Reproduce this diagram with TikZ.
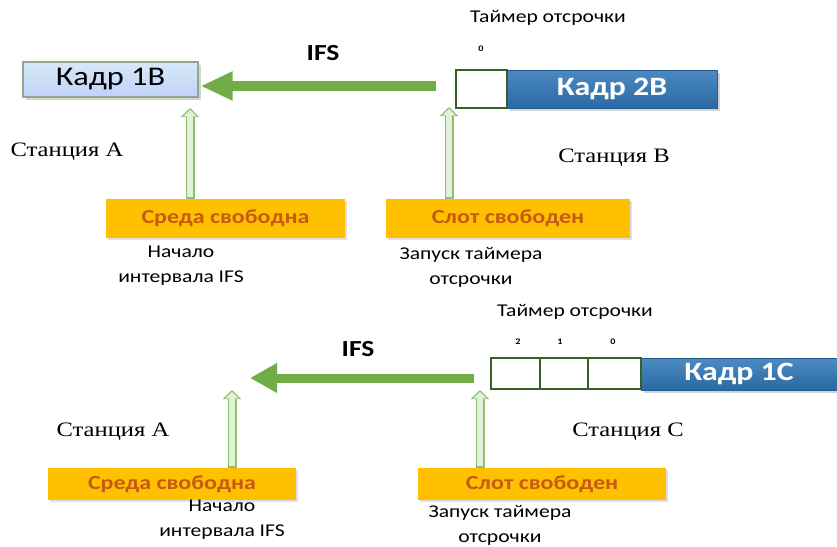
\documentclass[tikz,border=0pt]{standalone}
\usepackage{fontspec}
\setmainfont{Carlito}[FakeStretch=1.2]
\newfontfamily\stationfont{Liberation Serif}[FakeStretch=1.2]
\usetikzlibrary{arrows.meta,shadows,calc}

\definecolor{ifsgreen}{HTML}{70AD47}
\definecolor{timeredge}{HTML}{3B5E24}
\definecolor{liftfill}{HTML}{E2F0D9}
\definecolor{liftedge}{HTML}{8CC06A}
\definecolor{slotyellow}{HTML}{FFC000}
\definecolor{slottext}{HTML}{C55A11}
\definecolor{frameblue}{HTML}{2E75B6}
\definecolor{framelight}{HTML}{C5DFF5}
\definecolor{lightedge}{HTML}{8FA98A}

\tikzset{
  softshadow/.style={drop shadow={opacity=0.35, shadow xshift=2.5pt, shadow yshift=-2.5pt}},
  lightframe/.style={draw=lightedge, line width=1.2pt, top color=framelight!70!white,
      bottom color=framelight!85!blue!70!white, softshadow, inner sep=0pt,
      font=\fontsize{27}{29}\selectfont},
  blueframe/.style={draw=frameblue!80!black, line width=0.6pt, top color=frameblue!85!white,
      bottom color=frameblue!90!black, softshadow, inner sep=0pt, text=white,
      font=\bfseries\fontsize{26.5}{28}\selectfont},
  slotcell/.style={draw=timeredge, line width=1.6pt, fill=white, inner sep=0pt},
  mediumbox/.style={fill=slotyellow, text=slottext, inner sep=0pt,
      drop shadow={opacity=0.25, shadow xshift=2pt, shadow yshift=-1.5pt},
      font=\bfseries\fontsize{20}{22}\selectfont},
  label/.style={font=\fontsize{18}{25}\selectfont, align=center, inner sep=0pt},
  timerlabel/.style={font=\fontsize{18}{20}\selectfont, inner sep=0pt},
  station/.style={font=\stationfont\fontsize{20.5}{22}\selectfont, inner sep=0pt},
  ifstext/.style={font=\bfseries\fontsize{23}{25}\selectfont, inner sep=0pt},
  digit/.style={font=\bfseries\fontsize{8.5}{10}\selectfont, inner sep=0pt},
  ifsarrow/.style={ifsgreen, line width=10pt, -{Triangle[width=27pt,length=32pt]}},
}

% hollow upward arrow: outline layer, then pale fill layer
\newcommand\liftarrow[2]{%
  \draw[line width=9pt, liftedge, -{Triangle[width=18pt,length=9pt]}] (#1) -- (#2);
  \draw[line width=6pt, liftfill, shorten <=1.5pt, shorten >=1.8pt,
        -{Triangle[width=13pt,length=6.5pt]}] (#1) -- (#2);}

\begin{document}
\begin{tikzpicture}[x=1pt, y=-1pt]
\useasboundingbox (0,0) rectangle (837,546);

% ---------- upper scenario: stations A and B ----------
\node[timerlabel] (tmr1) at (548,18) {Таймер отсрочки};
\node[digit] (d10) at (481,49) {0};
\node[ifstext] (ifs1) at (323,53) {IFS};

\node[lightframe, minimum width=175pt, minimum height=35pt] (k1b) at (110.5,79.5) {Кадр 1B};
\node[blueframe, minimum width=210pt, minimum height=38pt] (k2b) at (612,89) {Кадр 2B};
\node[slotcell, minimum width=51pt, minimum height=38pt] (t0) at (481.5,89) {};

\node[station] (sta1) at (67,152) {Станция A};
\node[station] (stb) at (614,158) {Станция B};

\node[mediumbox, minimum width=239pt, minimum height=39pt] (free1) at (225.5,218.5) {Среда свободна};
\node[mediumbox, minimum width=244pt, minimum height=39pt] (slot1) at (508,218.5) {Слот свободен};

\node[label] (ifsstart1) at (181,265.5) {Начало\\интервала IFS};
\node[label] (tmrstart1) at (471,267) {Запуск таймера\\отсрочки};

\coordinate (s1) at (436,86);
\draw[ifsarrow, shorten >=2pt] (s1) -- (k1b.east |- s1);

\coordinate (u1) at (190,108);
\coordinate (u2) at (449,107);
\liftarrow{u1 |- free1.north}{u1}
\liftarrow{u2 |- slot1.north}{u2}

% ---------- lower scenario: stations A and C ----------
\node[timerlabel] (tmr2) at (575,312) {Таймер отсрочки};
\node[digit] (d22) at (518,342) {2};
\node[digit] (d21) at (560,342) {1};
\node[digit] (d20) at (613,342) {0};
\node[ifstext] (ifs2) at (358,349) {IFS};

\node[blueframe, minimum width=196pt, minimum height=32pt] (k1c) at (739,374) {Кадр 1C};
\node[slotcell, minimum width=49pt, minimum height=31pt] (c2) at (515.5,373.5) {};
\node[slotcell, minimum width=48pt, minimum height=31pt] (c1) at (564,373.5) {};
\node[slotcell, minimum width=53pt, minimum height=31pt] (c0) at (614.5,373.5) {};

\node[station] (sta2) at (113,432) {Станция A};
\node[station] (stc) at (628,432) {Станция C};

\node[mediumbox, minimum width=248pt, minimum height=32pt] (free2) at (172,484) {Среда свободна};
\node[mediumbox, minimum width=248pt, minimum height=32pt] (slot2) at (542,484) {Слот свободен};

\node[label] (ifsstart2) at (222,520) {Начало\\интервала IFS};
\node[label] (tmrstart2) at (500,525) {Запуск таймера\\отсрочки};

\coordinate (s2) at (474,378);
\coordinate (e2) at (250,378);
\draw[ifsarrow, line width=9pt, -{Triangle[width=28pt,length=27pt]}] (s2) -- (e2);

\coordinate (u3) at (232,390);
\coordinate (u4) at (480,390);
\liftarrow{u3 |- free2.north}{u3}
\liftarrow{u4 |- slot2.north}{u4}

\end{tikzpicture}
\end{document}
